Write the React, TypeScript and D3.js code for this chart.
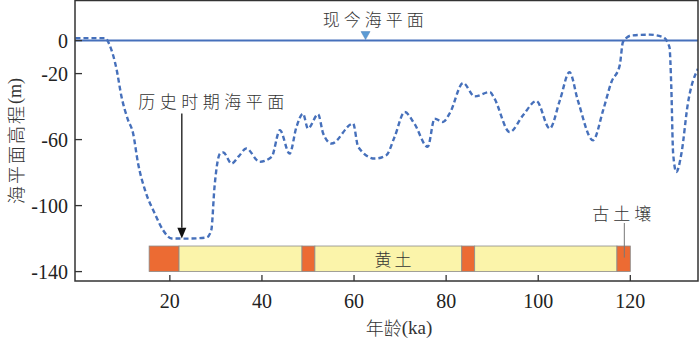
import { useEffect, useRef } from 'react';
import * as d3 from 'd3';

// sea level curve (ka, m)
const ages = [-0.5, 6, 6.8, 8.4, 9.5, 10.9, 12, 13.1, 14.6, 16.7, 18.5, 20.4, 24, 28, 29, 29.7, 30.9, 31.6, 33.4, 35, 36.6, 39.5, 42.1, 43.9, 46, 47.5, 48.9, 50, 52.2, 53.3, 55.1, 59.8, 60.9, 64.5, 67, 68.8, 71, 73.1, 76, 77.5, 79.3, 80.8, 83.7, 86.2, 89.5, 90.5, 93.8, 96.7, 99.6, 102.5, 104.7, 106.8, 108.6, 111.9, 114.1, 115.9, 117.7, 118.4, 120.2, 124.2, 127.1, 128.5, 128.9, 129.3, 130, 131.1, 132.5, 134.7];
const levels = [1.5, 1.5, -2, -17, -34, -48, -56, -74.5, -90.6, -104.7, -114.8, -119.9, -120, -119.3, -114.8, -88.6, -68.5, -67.8, -74.5, -70, -65.4, -73.5, -70.5, -54.3, -68.5, -52.3, -44.3, -53.3, -44.7, -56.3, -62.4, -50.3, -64.4, -71.5, -69.5, -58.4, -43.3, -50.3, -64.4, -47.3, -49.3, -44, -25.7, -33.8, -31.2, -35.2, -55.4, -45.3, -36.6, -53.3, -36.2, -19.1, -36.2, -60.4, -42.2, -25.1, -15, -0.9, 3.1, 3.6, 2.1, -3.9, -28.1, -68.4, -79.6, -68.4, -38.2, -17];

// loess / paleosol column
const segStart = [15.5, 22, 48.7, 51.5, 83.4, 86.2, 117.1];
const segEnd = [22, 48.7, 51.5, 83.4, 86.2, 117.1, 120];
const segType = ['paleosol', 'loess', 'paleosol', 'loess', 'paleosol', 'loess', 'paleosol'];

const xTicks = [20, 40, 60, 80, 100, 120];
const yTicks = [0, -20, -60, -100, -140];

const CJK = "'Noto Sans CJK SC', sans-serif";
const SERIF = "'Liberation Serif', 'Times New Roman', 'DejaVu Serif', serif";
const BLUE = '#4670bb';

const App = () => {
  const svgRef = useRef<SVGSVGElement>(null);

  useEffect(() => {
    const svg = d3.select(svgRef.current);
    svg.selectAll('*').remove();

    const left = 75, right = 698, top = 0.5, bottom = 281;
    const x = d3.scaleLinear().domain([-0.6, 134.7]).range([left, right]);
    const y = d3.scaleLinear().domain([-145.7, 24.3]).range([bottom, top]);

    const defs = svg.append('defs');
    defs.append('clipPath').attr('id', 'plot')
      .append('rect').attr('x', left).attr('y', top).attr('width', right - left).attr('height', bottom - top);

    const cjkText = (g, px, py, size, spacing, txt) => g.append('text')
      .attr('x', px).attr('y', py)
      .attr('text-anchor', 'middle').attr('dominant-baseline', 'central')
      .style('font-family', CJK).style('font-weight', 300)
      .style('font-size', size + 'px').style('letter-spacing', spacing + 'px')
      .attr('fill', '#333').text(txt);

    // column
    const barTop = -124.5, barBottom = -140;
    const col = svg.append('g');
    col.selectAll('rect')
      .data(segStart.map((s, i) => ({ s, e: segEnd[i], t: segType[i] })))
      .enter()
      .append('rect')
      .attr('x', d => x(d.s))
      .attr('width', d => x(d.e) - x(d.s))
      .attr('y', y(barTop))
      .attr('height', y(barBottom) - y(barTop))
      .attr('fill', d => d.t === 'loess' ? '#fbf4aa' : '#ec6b33')
      .attr('stroke', '#8a8a8a')
      .attr('stroke-width', 0.8);

    cjkText(col, x(68.8), y((barTop + barBottom) / 2), 17, 3, '黄土');

    // paleosol label
    col.append('line')
      .attr('x1', x(118.7)).attr('x2', x(118.7))
      .attr('y1', 223).attr('y2', y(-131.5))
      .attr('stroke', '#777').attr('stroke-width', 1);
    cjkText(col, x(118.6), 212, 17, 4, '古土壤');

    // present sea level
    svg.append('line')
      .attr('x1', left).attr('x2', right)
      .attr('y1', y(0)).attr('y2', y(0))
      .attr('stroke', BLUE).attr('stroke-width', 2);

    const tx = x(62.5), ty = y(0) - 1;
    svg.append('path')
      .attr('d', `M${tx - 4.5},${ty - 8} L${tx + 4.5},${ty - 8} L${tx},${ty} Z`)
      .attr('fill', '#5b9bd5').attr('stroke', '#4a7fb8').attr('stroke-width', 0.5);
    cjkText(svg, x(64.6), 18, 17, 4, '现今海平面');

    // historical sea level curve
    const line = d3.line<number>()
      .x((_, i) => x(ages[i]))
      .y(d => y(d))
      .curve(d3.curveMonotoneX);
    svg.append('path')
      .attr('clip-path', 'url(#plot)')
      .attr('d', line(levels))
      .attr('fill', 'none')
      .attr('stroke', BLUE)
      .attr('stroke-width', 2.4)
      .attr('stroke-dasharray', '5,3');

    // annotation arrow
    const ax = x(22.6);
    svg.append('line')
      .attr('x1', ax).attr('x2', ax)
      .attr('y1', y(-44.2)).attr('y2', y(-113.5))
      .attr('stroke', '#111').attr('stroke-width', 1.3);
    svg.append('path')
      .attr('d', `M${ax - 4.5},${y(-113.5)} L${ax + 4.5},${y(-113.5)} L${ax},${y(-119.9)} Z`)
      .attr('fill', '#111');
    cjkText(svg, 213.5, 100, 17, 4.5, '历史时期海平面');

    // axes
    const num = (sel) => sel
      .style('font-family', SERIF).style('font-size', '20px').attr('fill', '#222');

    const yAxis = svg.append('g');
    yAxis.selectAll('line').data(yTicks).enter().append('line')
      .attr('x1', left).attr('x2', left + 7)
      .attr('y1', d => y(d)).attr('y2', d => y(d))
      .attr('stroke', '#333').attr('stroke-width', 1.3);
    yAxis.selectAll('text').data(yTicks).enter().append('text')
      .attr('x', left - 7).attr('y', d => y(d))
      .attr('text-anchor', 'end').attr('dominant-baseline', 'central')
      .call(num)
      .text(d => String(d));

    const xAxis = svg.append('g');
    xAxis.selectAll('line').data(xTicks).enter().append('line')
      .attr('x1', d => x(d)).attr('x2', d => x(d))
      .attr('y1', bottom).attr('y2', bottom - 6)
      .attr('stroke', '#333').attr('stroke-width', 1.3);
    xAxis.selectAll('text').data(xTicks).enter().append('text')
      .attr('x', d => x(d)).attr('y', 301)
      .attr('text-anchor', 'middle').attr('dominant-baseline', 'central')
      .call(num)
      .text(d => String(d));

    svg.append('rect')
      .attr('x', left).attr('y', top).attr('width', right - left).attr('height', bottom - top)
      .attr('fill', 'none').attr('stroke', '#333').attr('stroke-width', 1.5);

    const yl = cjkText(svg, 0, 0, 18, 2, '海平面高程')
      .attr('transform', 'translate(15,141) rotate(-90)');
    yl.append('tspan').style('font-family', SERIF).style('letter-spacing', '0px').text('(m)');

    const xl = cjkText(svg, 399, 327, 18, 0, '年龄');
    xl.append('tspan').style('font-family', SERIF).style('font-size', '19px').text('(ka)');
  }, []);

  return (
    <svg ref={svgRef} width={700} height={340}
      style={{ position: 'absolute', left: 0, top: 0, background: '#fff' }} />
  );
};

export default App;
